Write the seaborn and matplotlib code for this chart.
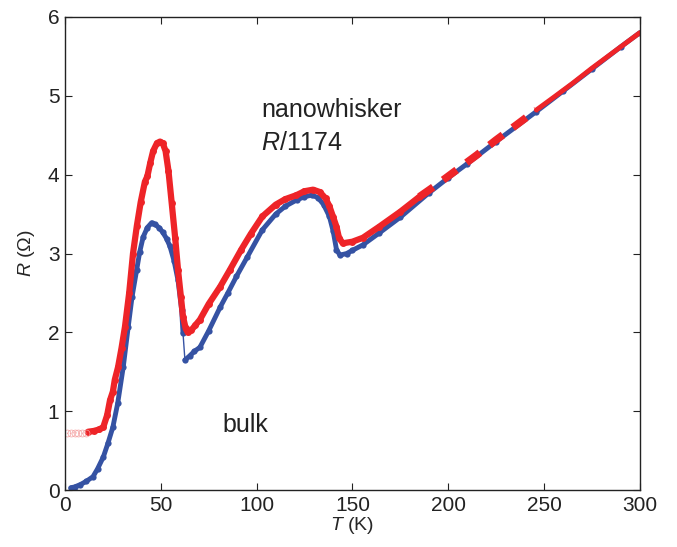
"""
R(T) of bulk sample vs nanowhisker (scaled by 1/1174).
"""
import numpy  as np
import pandas as pd
import matplotlib
matplotlib.use("Agg")
import matplotlib.pyplot as plt
import seaborn           as sns

# ================================================================================
# Data
# ================================================================================
bulk_T = [3, 5, 8, 11, 14.6, 17, 20, 22.5, 25, 27.5, 30.4, 33, 35, 37.4, 39, 40.8,
          43, 45.2, 47, 49, 51, 53, 54.8, 57, 59, 60.9, 61.6, 62.6, 65, 67.5, 70.4,
          75, 81, 85, 89.5, 95, 103, 110, 115, 121, 125, 128.7, 132, 135, 138, 140,
          141.7, 143.5, 147, 150, 155.5, 164, 175, 190, 200, 210, 225, 246, 260,
          275, 290, 300]
bulk_R = [0.03, 0.04, 0.07, 0.11, 0.17, 0.27, 0.42, 0.60, 0.80, 1.10, 1.56, 2.07,
          2.45, 2.79, 3.02, 3.21, 3.33, 3.39, 3.37, 3.33, 3.27, 3.19, 3.09, 2.90,
          2.66, 2.28, 1.99, 1.65, 1.70, 1.76, 1.81, 2.02, 2.32, 2.50, 2.71, 2.95,
          3.30, 3.50, 3.60, 3.68, 3.72, 3.74, 3.71, 3.62, 3.47, 3.28, 3.05, 2.98,
          3.00, 3.04, 3.11, 3.26, 3.46, 3.77, 3.96, 4.14, 4.42, 4.80, 5.06, 5.34,
          5.62, 5.80]

wire_T = [12, 15, 18, 20, 22, 23.5, 25, 26, 27.7, 29.5, 31.3, 33.5, 35.5, 37.5,
          39.5, 41.7, 43, 44.5, 46, 48, 49.6, 51, 52.5, 54, 55.7, 57.5, 59, 60.5,
          61.6, 63, 64, 66, 68, 70.4, 75, 81, 86, 92, 97, 103, 110, 115, 120.8, 125,
          129.5, 133, 136, 138, 140, 141.7, 143, 145, 150, 155.5, 164, 175, 185,
          195, 205, 215, 225, 235, 246, 255, 265, 275, 285, 300]
wire_R = [0.74, 0.75, 0.77, 0.80, 0.95, 1.14, 1.25, 1.40, 1.56, 1.80, 2.07, 2.50,
          3.00, 3.35, 3.65, 3.91, 3.98, 4.15, 4.30, 4.40, 4.42, 4.40, 4.30, 4.05,
          3.64, 3.20, 2.79, 2.45, 2.20, 2.05, 2.00, 2.03, 2.09, 2.16, 2.36, 2.58,
          2.79, 3.05, 3.25, 3.47, 3.62, 3.69, 3.74, 3.79, 3.81, 3.78, 3.70, 3.60,
          3.46, 3.34, 3.20, 3.13, 3.15, 3.20, 3.34, 3.53, 3.72, 3.89, 4.07, 4.25,
          4.44, 4.62, 4.82, 4.98, 5.16, 5.35, 5.53, 5.80]

# Faint open markers below 12 K
faint_T = [1, 3, 5, 7, 9, 11]
faint_R = [0.72, 0.72, 0.73, 0.72, 0.72, 0.73]

x_ticks = [0, 50, 100, 150, 200, 250, 300]
y_ticks = [0, 1, 2, 3, 4, 5, 6]

BLUE = "#3552a3"
RED  = "#ee2428"

# ================================================================================
# Styling
# ================================================================================
sns.set_style("ticks")
plt.rcParams["font.family"]      = ["Liberation Sans", "DejaVu Sans"]
plt.rcParams["mathtext.fontset"] = "custom"
plt.rcParams["mathtext.rm"]      = "Liberation Sans"
plt.rcParams["mathtext.it"]      = "Liberation Sans:italic"

bulk = pd.DataFrame({"T": bulk_T, "R": bulk_R})
wire = pd.DataFrame({"T": wire_T, "R": wire_R})

fig = plt.figure(figsize=(6.77, 5.47), dpi=100)
ax  = fig.add_axes([0.096, 0.104, 0.849, 0.865])

# --------------------------------------------------------------------------------
# Bulk (blue): thin line through everything, thick on both sides of the jump
# --------------------------------------------------------------------------------
common = dict(estimator=None, sort=False, ax=ax, legend=False)
sns.lineplot(data=bulk, x="T", y="R", color=BLUE, lw=1, **common)
for part in (bulk[bulk["T"] <= 61.6], bulk[bulk["T"] >= 62.6]):
    sns.lineplot(data=part, x="T", y="R", color=BLUE, lw=3.5, marker="o",
                 markersize=4.5, markeredgewidth=0, **common)

# --------------------------------------------------------------------------------
# Nanowhisker (red): solid, with a dashed stretch at high T
# --------------------------------------------------------------------------------
solid_lo = wire[wire["T"] <= 185]
dashed   = wire[(wire["T"] >= 185) & (wire["T"] <= 250)]
solid_hi = wire[wire["T"] >= 246]
sns.lineplot(data=solid_lo, x="T", y="R", color=RED, lw=4.5, marker="o",
             markersize=5, markeredgewidth=0, **common)
sns.lineplot(data=dashed, x="T", y="R", color=RED, lw=5.5,
             dashes=False, **common)
ax.lines[-1].set_linestyle((0, (2.2, 1.6)))
sns.lineplot(data=solid_hi, x="T", y="R", color=RED, lw=3.5, **common)
ax.plot(faint_T, faint_R, ls=":", lw=0.8, color="#f4a0a0", marker="o",
        markersize=5, markerfacecolor="none", markeredgewidth=0.5)

# --------------------------------------------------------------------------------
# Annotations
# --------------------------------------------------------------------------------
TXT = dict(fontsize=18, va="center", ha="left", color="#222222")
ax.text(102.5, 4.82, "nanowhisker",       **TXT)
ax.text(102.5, 4.40, "$\\mathit{R}$/1174", **TXT)
ax.text(82,    0.83, "bulk",              **TXT)

# --------------------------------------------------------------------------------
# Axes
# --------------------------------------------------------------------------------
ax.set_xlim(0, 300); ax.set_ylim(0, 6)
ax.set_xticks(x_ticks); ax.set_yticks(y_ticks)
ax.set_xlabel("$\\mathit{T}$ (K)", fontsize=14, labelpad=0)
ax.set_ylabel("$\\mathit{R}$ ($\\Omega$)", fontsize=14, labelpad=8)
ax.tick_params(direction="in", length=5, width=0.8, labelsize=15,
               top=True, right=True, colors="#222222", pad=4)
for s in ax.spines.values():
    s.set_linewidth(1.0); s.set_color("#222222")

fig.savefig("out.png", dpi=100)
